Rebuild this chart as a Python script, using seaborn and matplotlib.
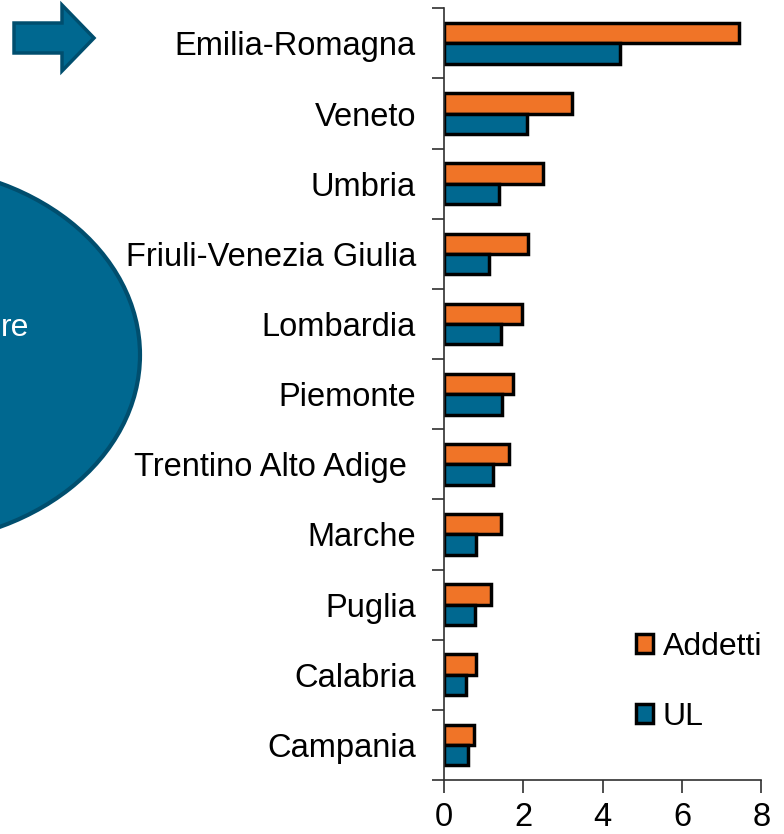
import pandas as pd
import matplotlib.pyplot as plt
import seaborn as sns
from matplotlib.patches import Ellipse, Polygon
from matplotlib.ticker import FixedLocator

regions = ['Emilia-Romagna', 'Veneto', 'Umbria', 'Friuli-Venezia Giulia', 'Lombardia',
           'Piemonte', 'Trentino Alto Adige ', 'Marche', 'Puglia', 'Calabria', 'Campania']
addetti = [7.43, 3.23, 2.49, 2.13, 1.98, 1.75, 1.65, 1.43, 1.19, 0.81, 0.75]
ul = [4.45, 2.10, 1.39, 1.14, 1.43, 1.47, 1.24, 0.81, 0.79, 0.55, 0.62]
series = ['Addetti', 'UL']
colors = ['#F07427', '#006890']

df = pd.DataFrame({'regione': regions, 'Addetti': addetti, 'UL': ul})
df = df.melt(id_vars='regione', var_name='serie', value_name='valore')

sns.set_style('white')
plt.rcParams['font.family'] = ['Liberation Sans', 'DejaVu Sans']
plt.rcParams['text.color'] = 'black'
plt.rcParams['xtick.color'] = 'black'
plt.rcParams['ytick.color'] = 'black'

fig = plt.figure(figsize=(7.84, 8.34), dpi=100)

# decorative shapes on the left, drawn in pixel coordinates
deco = fig.add_axes([0, 0, 1, 1], zorder=0)
deco.set_xlim(0, 784)
deco.set_ylim(834, 0)
deco.axis('off')
deco.add_patch(Ellipse((-100, 355), 480, 378, facecolor='#006890',
                       edgecolor='#004E6E', linewidth=3))
deco.text(1, 328, 're', color='white', fontsize=23, ha='left', va='center')
deco.add_patch(Polygon([(14, 23), (62, 23), (62, 5), (94, 38), (62, 71), (62, 53), (14, 53)],
                       closed=True, facecolor='#006890', edgecolor='#004E6E', linewidth=2.5))

ax = fig.add_axes([0.566, 0.0647, 0.405, 0.9253], zorder=1)
ax.patch.set_alpha(0)
sns.barplot(data=df, x='valore', y='regione', hue='serie', hue_order=series,
            palette=colors, saturation=1, orient='h', width=0.58, edgecolor='black',
            linewidth=2.5, ax=ax)

ax.set_xlim(0, 8)
ax.set_ylim(len(regions) - 0.5, -0.5)
ax.set_xticks([0, 2, 4, 6, 8])
ax.set_xlabel('')
ax.set_ylabel('')
ax.yaxis.set_minor_locator(FixedLocator([i - 0.5 for i in range(len(regions) + 1)]))
ax.tick_params(axis='y', which='major', length=0, pad=20, labelsize=23.5, labelcolor='black')
ax.tick_params(axis='y', which='minor', length=9, width=1.2, color='#303030', left=True)
ax.tick_params(axis='x', length=9, width=1.2, color='#303030', pad=7, labelsize=23.5,
               labelcolor='black', bottom=True)
for side in ['top', 'right']:
    ax.spines[side].set_visible(False)
for side in ['left', 'bottom']:
    ax.spines[side].set_color('#303030')
    ax.spines[side].set_linewidth(1.2)

ax.legend(loc='center left', bbox_to_anchor=(0.605, 0.127), frameon=False,
          fontsize=23, handlelength=0.55, handleheight=0.55, handletextpad=0.3,
          labelspacing=1.25, borderpad=0, borderaxespad=0)

fig.savefig('out.png', dpi=100)
